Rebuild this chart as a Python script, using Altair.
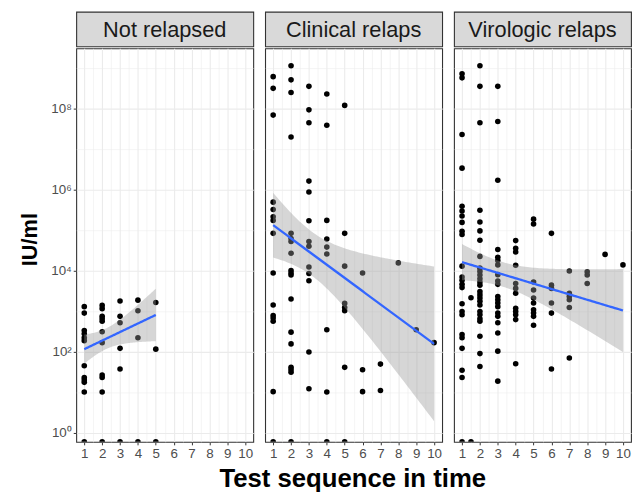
import altair as alt
import numpy as np
import pandas as pd

# ---- data: log10(IU/ml); None = 0 IU/ml (drawn at the floor)
PANELS = ["Not relapsed", "Clinical relaps", "Virologic relaps"]

not_relapsed = {
    1: [3.12, 2.96, 2.53, 2.45, 2.35, 2.28, 1.66, 1.37, 1.31, 1.25, 1.01, None],
    2: [3.15, 3.07, 2.88, 2.82, 2.76, 2.50, 2.23, 1.43, 1.37, 1.01, None],
    3: [3.26, 2.88, 2.72, 2.09, 1.58, None],
    4: [3.28, 3.02, 2.35, None],
    5: [3.22, 2.07, None],
}

clinical = {
    1: [8.80, 8.51, 7.85, 5.70, 5.52, 5.34, 5.25, 4.93, 3.95, 3.16, 2.90, 2.84, 2.76, 1.02, None],
    2: [9.07, 8.72, 8.41, 7.31, 4.93, 4.80, 4.73, 4.44, 4.01, 3.95, 3.90, 3.31, 2.49, 2.20,
        1.62, 1.56, 1.50, None],
    3: [8.56, 7.98, 7.66, 6.22, 5.95, 5.24, 4.73, 4.61, 4.10, 3.94, 3.76, 2.00, 1.09],
    4: [8.37, 7.60, 5.25, 4.79, 4.59, 4.42, 2.55, 1.01, None],
    5: [8.09, 4.93, 4.12, 3.20, 3.10, 3.02, 1.62, None],
    6: [3.95, 1.56, 1.02],
    7: [1.70, 1.05],
    8: [4.20],
    9: [2.55],
    10: [2.23],
}

virologic = {
    1: [8.87, 8.77, 7.37, 6.54, 5.60, 5.48, 5.36, 5.20, 4.98, 4.90, 4.12, 3.85, 3.77, 3.67,
        3.59, 3.19, 3.00, 2.92, 2.43, 2.35, 2.09, 1.55, 1.37, None],
    1.5: [3.34, None],
    2: [9.07, 8.56, 7.66, 5.50, 5.21, 4.99, 4.76, 4.36, 4.07, 3.99, 3.90, 3.81, 3.73, 3.65,
        3.49, 3.41, 3.33, 3.25, 3.16, 3.00, 2.92, 2.82, 2.76, 2.39, 1.96, 1.64],
    3: [8.56, 7.69, 6.24, 4.53, 4.34, 4.26, 4.15, 3.91, 3.75, 3.67, 3.37, 3.29, 3.21, 3.12,
        2.96, 2.88, 2.72, 2.47, 2.02, 1.28],
    4: [4.75, 4.56, 4.47, 4.14, 3.69, 3.57, 3.45, 3.08, 3.00, 2.92, 2.80, 1.71],
    5: [5.28, 5.16, 3.73, 3.53, 3.33, 3.21, 3.04, 2.96, 2.88, 2.66],
    6: [4.93, 3.65, 3.57, 3.21, 2.96, 1.58],
    7: [4.00, 3.45, 3.37, 3.29, 3.10, 1.85],
    8: [3.98, 3.90, 3.69],
    9: [4.41],
    10: [4.15],
}

DATASETS = [not_relapsed, clinical, virologic]

X_TICKS = [1, 1.5, 2, 2.5, 3, 3.5, 4, 4.5, 5, 5.5, 6, 6.5, 7, 7.5, 8, 8.5, 9, 9.5, 10]
Y_TICKS = [10.0 ** k for k in range(0, 10)]

Y_MIN = 10 ** -0.22
Y_MAX = 10 ** 9.5

W, H, SH = 179, 398, 35


def t975(df):
    z = 1.959964
    g1 = (z ** 3 + z) / 4
    g2 = (5 * z ** 5 + 16 * z ** 3 + 3 * z) / 96
    g3 = (3 * z ** 7 + 19 * z ** 5 + 17 * z ** 3 - 15 * z) / 384
    return z + g1 / df + g2 / df ** 2 + g3 / df ** 3


def points_df(d):
    rows = []
    for x, vals in d.items():
        for v in vals:
            rows.append({"x": float(x), "v": (10 ** v) if v is not None else Y_MIN,
                         "lv": v})
    return pd.DataFrame(rows)


def fit_df(pdf):
    sub = pdf.dropna(subset=["lv"])
    x = sub["x"].to_numpy()
    y = sub["lv"].to_numpy().astype(float)
    n = len(x)
    xb = x.mean()
    sxx = ((x - xb) ** 2).sum()
    b = ((x - xb) * (y - y.mean())).sum() / sxx
    a = y.mean() - b * xb
    s = np.sqrt(((y - (a + b * x)) ** 2).sum() / (n - 2))
    t = t975(n - 2)
    gx = np.linspace(x.min(), x.max(), 80)
    f = a + b * gx
    se = s * np.sqrt(1 / n + (gx - xb) ** 2 / sxx)
    return pd.DataFrame({"x": gx, "fit": 10 ** f, "lo": 10 ** (f - t * se),
                         "hi": 10 ** (f + t * se)})


x_scale = alt.Scale(domain=[0.55, 10.45], nice=False, zero=False)
y_scale = alt.Scale(type="log", domain=[Y_MIN, Y_MAX], nice=False)

Y_LABEL = ("round(log(datum.value)/LN10) == 0 ? '10\u2070' : "
           "round(log(datum.value)/LN10) == 2 ? '10\u00b2' : "
           "round(log(datum.value)/LN10) == 4 ? '10\u2074' : "
           "round(log(datum.value)/LN10) == 6 ? '10\u2076' : "
           "round(log(datum.value)/LN10) == 8 ? '10\u2078' : ''")
Y_ODD = "round(log(datum.value)/LN10) % 2 == 1"
X_MINOR = "datum.value % 1 != 0"

X_AXIS = alt.Axis(
    values=X_TICKS, title=None,
    labelExpr="datum.value % 1 == 0 ? format(datum.value, 'd') : ''",
    labelOverlap=False, labelFlush=False,
    tickColor={"condition": {"test": X_MINOR, "value": "transparent"}, "value": "#333333"},
    gridWidth={"condition": {"test": X_MINOR, "value": 0.55}, "value": 1.1},
)


def y_axis(show):
    if show:
        return alt.Axis(
            values=Y_TICKS, title="IU/ml", labelExpr=Y_LABEL, labelOverlap=False,
            tickColor={"condition": {"test": Y_ODD, "value": "transparent"}, "value": "#333333"},
            gridWidth={"condition": {"test": Y_ODD, "value": 0.55}, "value": 1.1},
            titlePadding=9, titleFontSize=22, titleY=193,
        )
    return alt.Axis(
        values=Y_TICKS, title=None, labels=False, ticks=False,
        gridWidth={"condition": {"test": Y_ODD, "value": 0.55}, "value": 1.1},
    )


def panel(i):
    name = PANELS[i]
    pdf = points_df(DATASETS[i])
    fdf = fit_df(pdf)
    xa = X_AXIS
    ya = y_axis(i == 0)
    pts = alt.Chart(pdf).mark_circle(size=32, color="black", opacity=1, clip=True).encode(
        x=alt.X("x:Q", scale=x_scale, axis=xa),
        y=alt.Y("v:Q", scale=y_scale, axis=ya),
    )
    band = alt.Chart(fdf).mark_area(color="#999999", opacity=0.4, clip=True).encode(
        x=alt.X("x:Q", scale=x_scale, axis=xa),
        y=alt.Y("lo:Q", scale=y_scale, axis=ya),
        y2="hi:Q",
    )
    line = alt.Chart(fdf).mark_line(color="#3366FF", strokeWidth=2.3, clip=True).encode(
        x=alt.X("x:Q", scale=x_scale, axis=xa),
        y=alt.Y("fit:Q", scale=y_scale, axis=ya),
    )
    plot = alt.layer(pts, band, line).properties(
        width=W, height=H,
        view=alt.ViewBackground(fill="white", stroke="#333333", strokeWidth=1.1),
    )
    strip = alt.Chart(alt.Data(values=[{"label": name}])).mark_text(
        fontSize=22, color="#1A1A1A", align="center", baseline="middle", font="Liberation Sans"
    ).encode(
        text="label:N", x=alt.value(W / 2), y=alt.value(SH / 2 + 1),
    ).properties(
        width=W, height=SH,
        view=alt.ViewBackground(fill="#D9D9D9", stroke="#333333", strokeWidth=1.1),
    )
    return alt.vconcat(strip, plot, spacing=0)


chart = alt.hconcat(panel(0), panel(1), panel(2), spacing=10).properties(
    padding={"left": 10, "top": 0, "right": 0, "bottom": 0},
    title=alt.TitleParams(
        "Test sequence in time", orient="bottom", anchor="middle",
        fontSize=26, fontWeight="bold", font="Liberation Sans", color="black",
        dx=28, offset=6,
    ),
).configure(
    font="Liberation Sans",
).configure_axis(
    labelColor="#4D4D4D", labelFontSize=13.5, labelFont="Liberation Sans",
    tickSize=3, labelPadding=2, domain=False,
    gridColor="#EBEBEB",
    titleFont="Liberation Sans", titleFontWeight="bold", titleFontSize=24,
    titleColor="black",
)

chart.save("out.html", embed_options={"renderer": "svg", "actions": False})
